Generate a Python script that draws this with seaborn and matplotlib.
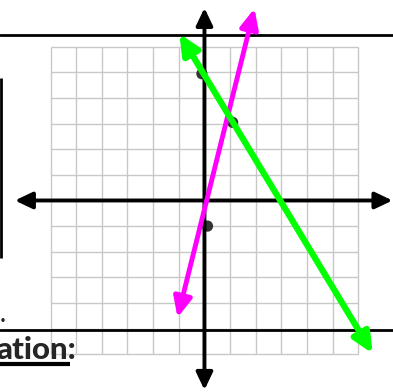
import matplotlib
matplotlib.use("Agg")
import matplotlib.pyplot as plt
import seaborn as sns
import pandas as pd

# plotted points (grid units), as dotted on the sheet
point_x = [-0.1, 1.1, 0.12]
point_y = [4.95, 3.05, -1.0]

# hand-drawn lines, tail -> head
magenta_x = [-1.05, 1.95]
magenta_y = [-4.57, 7.5]
green_x = [-0.98, 6.56]
green_y = [6.52, -5.98]

grid_ticks = list(range(-6, 7))

sns.set_style("white")
plt.rcParams["font.family"] = ["Lato", "Liberation Sans", "DejaVu Sans"]

fig = plt.figure(figsize=(3.93, 3.92), dpi=100)
ax = fig.add_axes([0, 0, 1, 1])

# graph paper
ax.vlines(grid_ticks, -6, 6, color="#c8c8c8", lw=1.0, zorder=1)
ax.hlines(grid_ticks, -6, 6, color="#c8c8c8", lw=1.0, zorder=1)

points = pd.DataFrame({"x": point_x, "y": point_y})
sns.scatterplot(data=points, x="x", y="y", color="#333333", s=65,
                edgecolor="none", zorder=2, ax=ax)


def arrow(xs, ys, color, lw, hl, hw, z):
    ax.annotate("", xy=(xs[1], ys[1]), xytext=(xs[0], ys[0]),
                arrowprops=dict(arrowstyle=f"<|-|>,head_length={hl},head_width={hw}",
                                color=color, lw=lw, shrinkA=0, shrinkB=0),
                zorder=z)


# x and y axes
arrow([-7.39, 7.33], [0, 0], "black", 2.8, 1.05, 0.5, 3)
arrow([0, 0], [-7.4, 7.52], "black", 2.8, 1.05, 0.5, 3)

# worksheet rules
ax.axhline(6.46, color="black", lw=2, zorder=3)
ax.axhline(-5.04, color="black", lw=2, zorder=3)
ax.vlines(-7.93, -2.25, 4.79, color="black", lw=2, zorder=3)

# the two lines
arrow(magenta_x, magenta_y, "#ff00ff", 3.5, 1.2, 0.55, 4)
arrow(green_x, green_y, "#00ff00", 4.5, 1.2, 0.55, 4)

# cut-off worksheet text
ax.text(-5.01, -6.19, "ation:", fontsize=22.5, fontweight=900,
        ha="right", va="baseline", zorder=5)
ax.plot([-7.97, -5.24], [-6.39, -6.39], color="black", lw=3,
        solid_capstyle="butt", zorder=5)
ax.text(-7.7, -4.75, "e.", fontsize=20, ha="right", va="baseline", zorder=5)

ax.set_xlim(-7.97, 7.35)
ax.set_ylim(-7.48, 7.83)
ax.axis("off")

fig.savefig("out.png", dpi=100)
